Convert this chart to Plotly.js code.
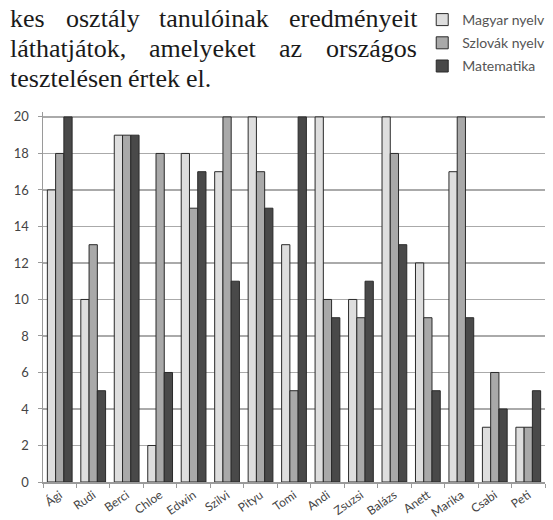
<!DOCTYPE html>
<html>
<head>
<meta charset="utf-8">
<script src="https://cdn.plot.ly/plotly-3.0.1.min.js"></script>
<style>
html,body{margin:0;padding:0;background:#fff;}
#chart{width:553px;height:520px;}
</style>
</head>
<body>
<div id="chart"></div>
<script>
// ---- data ----
const students = ["Ági","Rudi","Berci","Chloe","Edwin","Szilvi","Pityu","Tomi","Andi","Zsuzsi","Balázs","Anett","Marika","Csabi","Peti"];
const seriesNames = ["Magyar nyelv","Szlovák nyelv","Matematika"];
const magyar    = [16,10,19, 2,18,17,20,13,20,10,20,12,17,3,3];
const szlovak   = [18,13,19,18,15,20,17, 5,10, 9,18, 9,20,6,3];
const matek     = [20, 5,19, 6,17,11,15,20, 9,11,13, 5, 9,4,5];
const yTicks    = [0,2,4,6,8,10,12,14,16,18,20];
const paragraphLines = [
  "kes osztály tanulóinak eredményeit",
  "láthatjátok, amelyeket az országos",
  "tesztelésen értek el."
];

// ---- layout geometry (pixels) ----
const W = 553, H = 520;
const M = {l:43, r:3, t:112, b:38};
const PW = W - M.l - M.r, PH = H - M.t - M.b;
const px2x = p => (p - M.l) / PW;
const py2y = p => (H - M.b - p) / PH;

const fills = ["#dedede","#a9a9a9","#494949"];
const values = [magyar, szlovak, matek];
const traces = values.map((v,i)=>({
  type:"bar", name:seriesNames[i], x:students, y:v,
  legendgroup:"g"+i,
  marker:{color:fills[i], line:{color:"#2a2a2a", width:1}},
  hoverinfo:"x+y+name"
}));

// justified paragraph, word by word
const paraFont = "Liberation Serif";
const paraSize = 26;
const cv = document.createElement("canvas").getContext("2d");
cv.font = paraSize + "px '" + paraFont + "'";
const leftPx = 8, rightPx = 418;
const baselines = [27, 56, 86];
const annotations = [];
paragraphLines.forEach((line, li) => {
  const words = line.split(" ");
  const widths = words.map(w => cv.measureText(w).width);
  const total = widths.reduce((a,b)=>a+b,0);
  const justify = li < paragraphLines.length - 1;
  const gap = justify ? (rightPx - leftPx - total) / (words.length - 1) : cv.measureText(" ").width;
  let x = leftPx;
  words.forEach((w, wi) => {
    annotations.push({
      xref:"paper", yref:"paper", x:px2x(x), y:py2y(baselines[li] - 8),
      xanchor:"left", yanchor:"middle", showarrow:false, text:w,
      font:{family:paraFont, size:paraSize, color:"#1a1a1a"}
    });
    x += widths[wi] + gap;
  });
});

const layout = {
  width:W, height:H,
  margin:M,
  paper_bgcolor:"#fff", plot_bgcolor:"#fff",
  barmode:"group", bargap:0.26, bargroupgap:0,
  showlegend:true,
  legend:{
    x:px2x(426), y:py2y(4), xanchor:"left", yanchor:"top",
    traceorder:"grouped", tracegroupgap:2,
    font:{family:"Lato", size:14, color:"#555"},
    bgcolor:"rgba(0,0,0,0)", itemwidth:30
  },
  xaxis:{
    type:"category", tickangle:-35,
    showline:true, linecolor:"#9a9a9a", linewidth:1.5,
    ticks:"outside", tickson:"boundaries", ticklen:4, tickcolor:"#9a9a9a",
    tickfont:{family:"Lato", size:12, color:"#444"},
    showgrid:false, automargin:false, fixedrange:true
  },
  yaxis:{
    range:[0,20.27], tickvals:yTicks, ticktext:yTicks.map(String),
    showline:true, linecolor:"#9a9a9a", linewidth:1.5,
    ticks:"outside", ticklen:4, tickcolor:"#9a9a9a",
    ticklabelstandoff:6,
    tickfont:{family:"Lato", size:13, color:"#444"},
    showgrid:true, gridcolor:"#aaaaaa", gridwidth:1.5,
    zeroline:false, automargin:false, fixedrange:true
  },
  annotations:annotations
};

Plotly.newPlot("chart", traces, layout, {displayModeBar:false, staticPlot:true});
</script>
</body>
</html>
